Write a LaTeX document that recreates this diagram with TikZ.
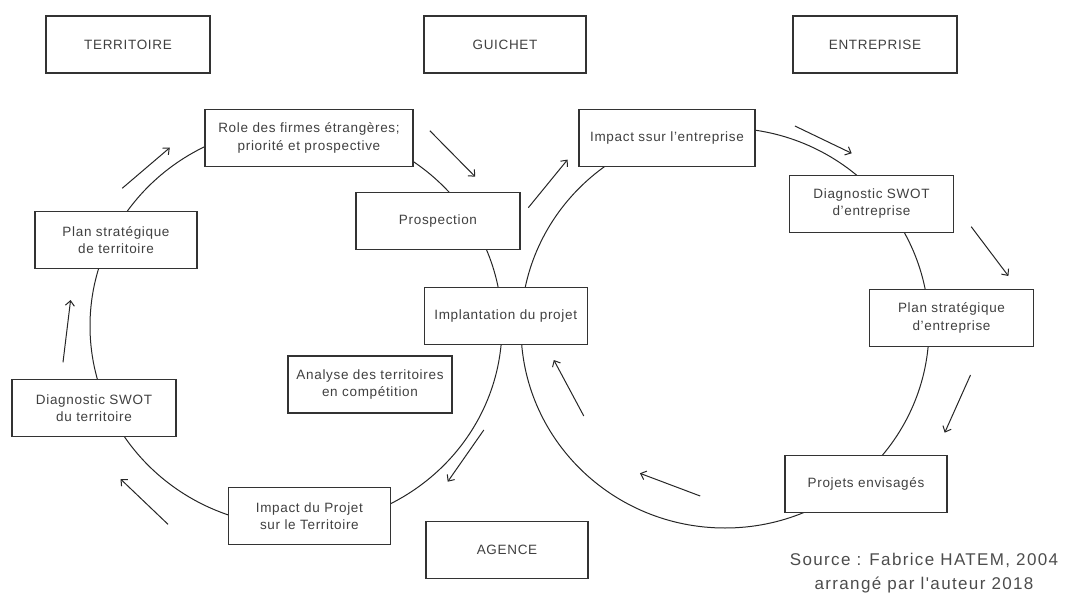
\documentclass[tikz,border=0pt]{standalone}
\usepackage{fontspec}
\setmainfont{Liberation Sans}[LetterSpace=5]
\newfontfamily\sourcefont{Liberation Sans}[LetterSpace=8]
\usetikzlibrary{arrows.meta}

\begin{document}
\begin{tikzpicture}[
    x=1pt, y=-1pt,
    box/.style={rectangle, draw=black!80, line width=1.3pt, fill=white, minimum width=164pt, minimum height=57pt, inner sep=2pt, align=center, text=black!75, font=\fontsize{13.5}{17.5}\selectfont},
    ring/.style={draw=black!85, line width=1pt},
    flow/.style={draw=black!85, line width=1pt, -{Straight Barb[length=5pt,width=9pt]}}
]
    \useasboundingbox (0,0) rectangle (1068,594);
    % the two cycles
    \coordinate (cterr) at (296,326);
    \coordinate (centr) at (725,328);
    \draw [ring] (cterr) ellipse [x radius=206pt, y radius=200pt];
    \draw [ring] (centr) ellipse [x radius=204pt, y radius=200pt];

    % headings
    \node (terr) [box] at (128,44.5) {TERRITOIRE};
    \node (guichet) [box, minimum width=162pt] at (505,44.5) {GUICHET};
    \node (entr) [box] at (875,44.5) {ENTREPRISE};
    \node (agence) [box, minimum width=162pt] at (507,550) {AGENCE};

    % territoire side
    \node (role) [box, minimum width=208pt] at (309,138) {Role des firmes étrangères;\\priorité et prospective};
    \node (prosp) [box] at (438,221) {Prospection};
    \node (planT) [box, minimum width=162pt] at (116,240) {Plan stratégique\\de territoire};
    \node (diagT) [box] at (94,408) {Diagnostic SWOT\\du territoire};
    \node (impactT) [box, minimum width=162pt] at (309.4,516) {Impact du Projet\\sur le Territoire};
    \node (analyse) [box] at (370,384.5) {Analyse des territoires\\en compétition};
    \node (implant) [box, minimum width=163pt] at (505.7,316) {Implantation du projet};

    % entreprise side
    \node (impactE) [box, minimum width=176pt] at (667,138) {Impact ssur l'entreprise};
    \node (diagE) [box] at (871.5,203.7) {Diagnostic SWOT\\d'entreprise};
    \node (planE) [box] at (951.5,318) {Plan stratégique\\d'entreprise};
    \node (projets) [box, minimum width=162pt] at (866,484) {Projets envisagés};

    \node (source) [align=center, text=black!70, font=\sourcefont\fontsize{17}{24}\selectfont] at (924,573) {Source : Fabrice HATEM, 2004\\arrangé par l'auteur 2018};

    % direction arrows
    \coordinate (t1) at (63,362.3);    \coordinate (h1) at (70.6,300);
    \coordinate (t2) at (122.2,188.3); \coordinate (h2) at (169.8,147.7);
    \coordinate (t3) at (429.8,130.7); \coordinate (h3) at (475.2,176.7);
    \coordinate (t4) at (528.3,207.7); \coordinate (h4) at (567.6,159.6);
    \coordinate (t5) at (794.9,126);   \coordinate (h5) at (851.7,153.3);
    \coordinate (t6) at (971.2,226.7); \coordinate (h6) at (1008.4,276);
    \coordinate (t7) at (970.5,375);   \coordinate (h7) at (944.7,432.7);
    \coordinate (t8) at (700.2,496);   \coordinate (h8) at (639.9,473.3);
    \coordinate (t9) at (583.8,416);   \coordinate (h9) at (553.8,360);
    \coordinate (t10) at (483.8,430);  \coordinate (h10) at (447.7,481.7);
    \coordinate (t11) at (168,524.3);  \coordinate (h11) at (120.5,479);
    \foreach \i in {1,...,11}
        \draw [flow] (t\i) -- (h\i);
\end{tikzpicture}
\end{document}
